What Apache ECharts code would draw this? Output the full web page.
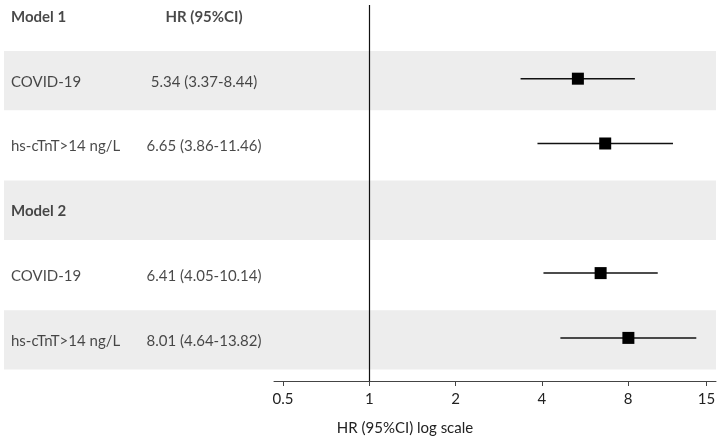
<!DOCTYPE html>
<html>
<head>
<meta charset="utf-8">
<script src="https://cdn.jsdelivr.net/npm/echarts@6/dist/echarts.min.js"></script>
<style>html,body{margin:0;padding:0;background:#fff;}#c{width:720px;height:441px;}</style>
</head>
<body>
<div id="c"></div>
<script>
// ---- data ----
const rowLabels = ['Model 1', 'COVID-19', 'hs-cTnT>14 ng/L', 'Model 2', 'COVID-19', 'hs-cTnT>14 ng/L'];
const hrTexts   = ['HR (95%CI)', '5.34 (3.37-8.44)', '6.65 (3.86-11.46)', '', '6.41 (4.05-10.14)', '8.01 (4.64-13.82)'];
const hrValues  = [null, 5.34, 6.65, null, 6.41, 8.01];
const ciLow     = [null, 3.37, 3.86, null, 4.05, 4.64];
const ciHigh    = [null, 8.44, 11.46, null, 10.14, 13.82];
const boldRows  = [0, 3];
const shadedRows = [1, 3, 5];
const tickValues = [0.5, 1, 2, 4, 8, 15];
const axisTitle = 'HR (95%CI) log scale';

// ---- layout ----
const FONT = 'Lato, "Open Sans", sans-serif';
const LABEL_X = 7, HR_X = 200;
const Y_MIN = -0.137, Y_MAX = 5.665;
const lg = v => Math.log2(v);

const chart = echarts.init(document.getElementById('c'));

const textData = [];
rowLabels.forEach((t, i) => {
  textData.push({ value: [LABEL_X, i], label: { formatter: t, align: 'left', fontWeight: boldRows.includes(i) ? 'bold' : 'normal' } });
  if (hrTexts[i]) textData.push({ value: [HR_X, i], label: { formatter: hrTexts[i], align: 'center', fontWeight: i === 0 ? 'bold' : 'normal' } });
});

const ciData = [];
const ptData = [];
hrValues.forEach((v, i) => {
  if (v == null) return;
  ciData.push([lg(ciLow[i]), lg(ciHigh[i]), i]);
  ptData.push([lg(v), i]);
});

chart.setOption({
  animation: false,
  grid: [
    { left: 4, right: 4, top: 5, bottom: 60 },
    { left: 274, right: 4, top: 5, bottom: 60 }
  ],
  xAxis: [
    { gridIndex: 0, type: 'value', min: 0, max: 712, show: false },
    {
      gridIndex: 1, type: 'value', min: -1.104, max: 4.017,
      axisLine: { onZero: false, lineStyle: { color: '#444', width: 1 } },
      axisTick: { show: true, length: 5, customValues: tickValues.map(lg), lineStyle: { color: '#444' } },
      axisLabel: {
        customValues: tickValues.map(lg), margin: 11,
        fontFamily: FONT, fontSize: 15, color: '#222',
        formatter: v => { const x = Math.pow(2, v); return x < 1 ? x.toFixed(1) : String(Math.round(x)); }
      },
      splitLine: { show: false }
    }
  ],
  yAxis: [
    { gridIndex: 0, type: 'value', min: Y_MIN, max: Y_MAX, inverse: true, show: false },
    { gridIndex: 1, type: 'value', min: Y_MIN, max: Y_MAX, inverse: true, show: false }
  ],
  graphic: [{
    type: 'text', x: 405, y: 428,
    style: { text: axisTitle, fontFamily: FONT, fontSize: 15, fill: '#222', textAlign: 'center', textVerticalAlign: 'middle' }
  }],
  series: [
    {
      type: 'scatter', xAxisIndex: 0, yAxisIndex: 0, symbolSize: 0, silent: true,
      data: textData,
      label: { show: true, position: 'inside', offset: [0, 3], fontFamily: FONT, fontSize: 15, color: '#1a1a1a' },
      markArea: {
        silent: true,
        itemStyle: { color: '#ededed' },
        data: shadedRows.map(r => [{ yAxis: r + 0.03 - 0.458 }, { yAxis: r + 0.03 + 0.458 }])
      },
      z: 3
    },
    {
      type: 'custom', xAxisIndex: 1, yAxisIndex: 1, silent: true,
      data: ciData,
      renderItem: (params, api) => {
        const a = api.coord([api.value(0), api.value(2)]);
        const b = api.coord([api.value(1), api.value(2)]);
        return { type: 'line', shape: { x1: a[0], y1: a[1], x2: b[0], y2: b[1] }, style: { stroke: '#111', lineWidth: 1.5 } };
      },
      z: 4
    },
    {
      type: 'scatter', xAxisIndex: 1, yAxisIndex: 1, symbol: 'rect', symbolSize: 12, silent: true,
      itemStyle: { color: '#000', opacity: 1 },
      data: ptData,
      markLine: {
        silent: true, symbol: 'none', label: { show: false },
        lineStyle: { color: '#111', width: 1.2, type: 'solid' },
        data: [{ xAxis: lg(1) }]
      },
      z: 5
    }
  ]
});
</script>
</body>
</html>
